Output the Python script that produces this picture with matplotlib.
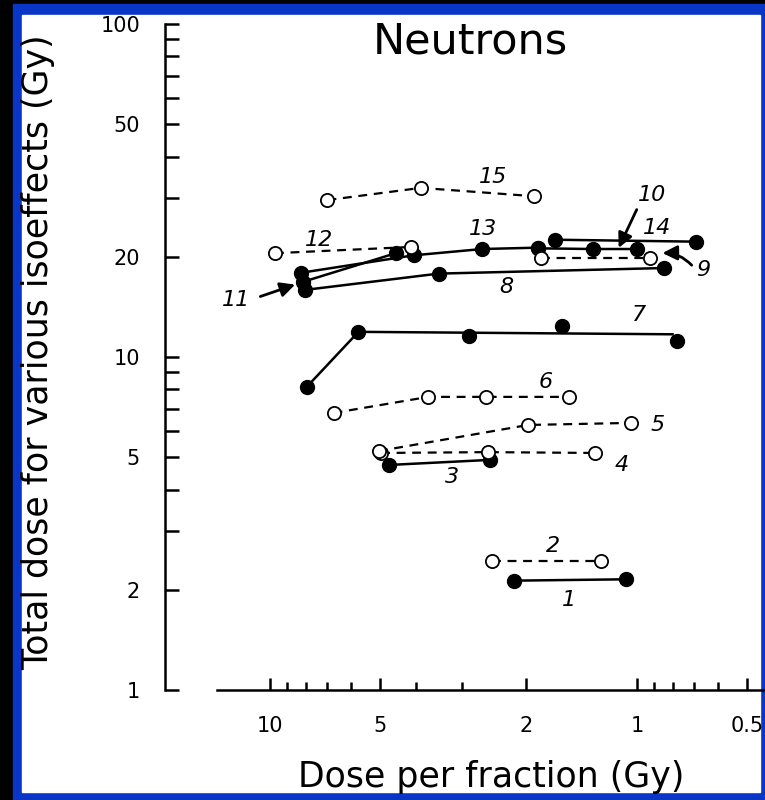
import numpy as np
import matplotlib
matplotlib.use('Agg')
from matplotlib import pyplot as plt
from matplotlib.patches import Rectangle
from matplotlib.ticker import FixedLocator, NullFormatter

# dose per fraction (Gy) and total dose (Gy) for each isoeffect curve
s1_x = [2.16, 1.07];  s1_y = [2.13, 2.15]
s2_x = [2.49, 1.25];  s2_y = [2.44, 2.44]
s3_x = [4.74, 2.51];  s3_y = [4.74, 4.91]
s4_x = [4.98, 2.54, 1.30];  s4_y = [5.15, 5.18, 5.15]
s5_x = [5.05, 1.98, 1.04];  s5_y = [5.22, 6.25, 6.34]
s6_x = [6.71, 3.70, 2.58, 1.53];  s6_y = [6.79, 7.59, 7.59, 7.59]
s7_x = [7.94, 5.74, 2.86, 1.60, 0.78];  s7_y = [8.13, 11.9, 11.6, 12.4, 11.2]
s7_fit_x = [7.94, 5.74, 0.80];  s7_fit_y = [8.13, 11.9, 11.7]
s8_x = [8.04, 3.47, 0.845];  s8_y = [15.9, 17.8, 18.5]
s9_x = [1.83, 0.92];  s9_y = [19.8, 19.8]
s10_x = [1.86, 1.32, 1.0];  s10_y = [21.2, 21.1, 21.1]
s11_x = [8.15, 4.54];  s11_y = [16.8, 20.5]
s12_x = [9.69, 4.13];  s12_y = [20.5, 21.4]
s13_x = [8.24, 4.06, 2.64, 1.86];  s13_y = [17.9, 20.2, 21.1, 21.3]
s14_x = [1.67, 0.69];  s14_y = [22.5, 22.2]
s15_x = [6.97, 3.88, 1.91];  s15_y = [29.6, 32.2, 30.4]

# (x, y, filled) ; filled -> solid line, open -> dashed line
curves = [
    (s1_x, s1_y, True), (s2_x, s2_y, False), (s3_x, s3_y, True),
    (s4_x, s4_y, False), (s5_x, s5_y, False), (s6_x, s6_y, False),
    (s8_x, s8_y, True), (s9_x, s9_y, False), (s10_x, s10_y, True),
    (s11_x, s11_y, True), (s12_x, s12_y, False), (s13_x, s13_y, True),
    (s14_x, s14_y, True), (s15_x, s15_y, False),
]

curve_names = ['1', '2', '3', '4', '5', '6', '7', '8', '9', '10',
               '11', '12', '13', '14', '15']
name_x = [1.535, 1.69, 3.20, 1.10, 0.877, 1.77, 0.99, 2.27, 0.659, 0.91,
          12.4, 7.33, 2.62, 0.883, 2.47]
name_y = [1.86, 2.71, 4.36, 4.74, 6.25, 8.41, 13.4, 16.2, 18.3, 30.7,
          14.8, 22.5, 24.2, 24.4, 34.7]

x_ticks = [10, 5, 2, 1, 0.5]
x_ticklabels = ['10', '5', '2', '1', '0.5']
y_ticks = [1, 2, 5, 10, 20, 50, 100]
y_ticklabels = ['1', '2', '5', '10', '20', '50', '100']

W, H = 765, 800
fig = plt.figure(figsize=(W / 100, H / 100), dpi=100, facecolor='black')

# blue frame + white panel (behind the axes)
fig.patches.append(Rectangle((13 / W, 0), (W - 13) / W, (H - 4) / H,
                             transform=fig.transFigure, color='#0a36c8', zorder=-2))
fig.patches.append(Rectangle((22 / W, 8 / H), (760 - 22) / W, (H - 15 - 8) / H,
                             transform=fig.transFigure, color='white', zorder=-1))

ax = fig.add_axes([165 / W, (H - 690) / H, 600 / W, 666 / H])
ax.patch.set_alpha(0)
ax.set_xscale('log')
ax.set_yscale('log')
ax.set_xlim(19.32, 0.4478)
ax.set_ylim(1, 100)

for xs, ys, filled in curves:
    if filled:
        ax.plot(xs, ys, color='k', lw=1.8, marker='o', ms=10,
                mfc='k', mec='k', zorder=3, clip_on=False)
    else:
        ax.plot(xs, ys, color='k', lw=1.6, ls=(0, (4, 3)), marker='o', ms=9.5,
                mfc='white', mec='k', mew=1.3, zorder=4, clip_on=False)

# curve 7: straight line through the points
ax.plot(s7_fit_x, s7_fit_y, color='k', lw=1.8, zorder=3)
ax.plot(s7_x, s7_y, ls='none', marker='o', ms=10, color='k', zorder=3)

for n, tx, ty in zip(curve_names, name_x, name_y):
    ax.text(tx, ty, n, fontsize=16, style='italic', ha='center', va='center')

arrow = dict(arrowstyle='-|>', color='k', lw=2, mutation_scale=22)
ax.annotate('', xy=(1.13, 20.9), xytext=(0.994, 28.2), arrowprops=arrow)
ax.annotate('', xy=(8.40, 16.6), xytext=(10.8, 15.1), arrowprops=arrow)
ax.annotate('', xy=(0.867, 20.5), xytext=(0.701, 18.6),
            arrowprops=dict(arrow, connectionstyle='arc3,rad=0.25'))

# axes styling
for s in ['top', 'right']:
    ax.spines[s].set_visible(False)
ax.spines['left'].set_linewidth(1.8)
ax.spines['bottom'].set_linewidth(1.8)
ax.spines['bottom'].set_bounds(13.95, 0.4478)

ax.xaxis.set_major_locator(FixedLocator(x_ticks))
ax.set_xticklabels(x_ticklabels)
ax.xaxis.set_minor_locator(FixedLocator([9, 8, 7, 6, 4, 3, 0.9, 0.8, 0.7, 0.6]))
ax.xaxis.set_minor_formatter(NullFormatter())
ax.yaxis.set_major_locator(FixedLocator(y_ticks))
ax.set_yticklabels(y_ticklabels)
ax.yaxis.set_minor_locator(FixedLocator([3, 4, 6, 7, 8, 9, 30, 40, 60, 70, 80, 90]))
ax.yaxis.set_minor_formatter(NullFormatter())

ax.tick_params(axis='x', which='major', direction='in', length=9, width=1.8,
               pad=19, labelsize=15)
ax.tick_params(axis='x', which='minor', direction='in', length=6, width=1.8)
ax.tick_params(axis='y', which='major', direction='in', length=10, width=1.8,
               pad=18, labelsize=15)
ax.tick_params(axis='y', which='minor', direction='in', length=10, width=1.8)

fig.text(470 / W, 1 - 42 / H, 'Neutrons', fontsize=31, ha='center', va='center')
fig.text(491 / W, 1 - 787 / H, 'Dose per fraction (Gy)', fontsize=25,
         ha='center', va='baseline')
fig.text(38 / W, 1 - 352 / H, 'Total dose for various isoeffects (Gy)',
         fontsize=25, rotation=90, ha='center', va='center')

fig.savefig('out.png', dpi=100, facecolor=fig.get_facecolor())
